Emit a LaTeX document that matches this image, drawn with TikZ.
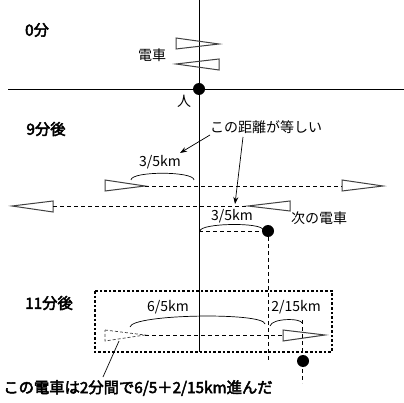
\documentclass[tikz,border=0pt]{standalone}
\usepackage{fontspec}
\newfontfamily\jp{Noto Sans CJK JP}
\newfontfamily\jpb[FakeBold=3]{Noto Sans CJK JP}
\usetikzlibrary{arrows.meta}
\begin{document}
\begin{tikzpicture}[x=1pt,y=-1pt,
  ln/.style={line width=0.8pt},
  dsh/.style={line width=0.7pt,dash pattern=on 4pt off 3pt},
  train/.style={line width=1pt,draw=black!75,line join=miter},
  lbl/.style={font=\jp\fontsize{14}{16}\selectfont,inner sep=0pt},
  ttl/.style={font=\jpb\fontsize{15.3}{17}\selectfont,inner sep=0pt},
  dot/.style={circle,fill=black,inner sep=0pt,minimum size=12pt},
  arr/.style={line width=0.7pt,-{Stealth[length=7pt,width=5pt]}}]
\useasboundingbox (0,0) rectangle (404,403);
% axes
\coordinate (vtop) at (199,0);
\coordinate (vbot) at (199,352);
\coordinate (hl) at (8,89);
\coordinate (hr) at (404,89);
\draw[ln] (vtop) -- (vbot);
\draw[ln] (hl) -- (hr);
\node[dot] (person) at (199,89) {};
\node[lbl] (hito) at (184,101) {人};
% titles
\node[ttl] (t0) at (37,30) {0分};
\node[ttl] (t9) at (46,129) {9分後};
\node[ttl] (t11) at (49,303) {11分後};
% trains at 0
\draw[train] (176,38) -- (219,44) -- (176,49) -- cycle;
\draw[train] (219,59) -- (176,64) -- (219,70) -- cycle;
\node[lbl] (densha) at (152,55) {電車};
% 9 min rows
\draw[train] (105,180) -- (145,186) -- (105,191) -- cycle;
\draw[train] (342,180) -- (383,186) -- (342,191) -- cycle;
\coordinate (r1a) at (145,186); \coordinate (r1b) at (342,186);
\draw[dsh] (r1a) -- (r1b);
\draw[train] (53,201) -- (12,206) -- (53,212) -- cycle;
\draw[train] (290,201) -- (248,206) -- (290,211) -- cycle;
\coordinate (r2a) at (53,206); \coordinate (r2b) at (248,206);
\draw[dsh] (r2a) -- (r2b);
\node[lbl] (next) at (319,218) {次の電車};
% arcs 3/5
\coordinate (a1l) at (131,180); \coordinate (a1r) at (194,180);
\draw[line width=0.7pt] (a1l) .. controls (131,171) and (194,171) .. (a1r);
\node[lbl] (d1) at (160,162) {3/5km};
\coordinate (a2l) at (200,231); \coordinate (a2r) at (263,230);
\draw[line width=0.7pt] (a2l) .. controls (200,223) and (263,222) .. (a2r);
\node[lbl] (d2) at (232,216) {3/5km};
\node[dot] (p9) at (268,231) {};
\coordinate (c9) at (199,231);
\draw[dsh] (c9) -- (p9);
\coordinate (v9b) at (268,360);
\draw[dsh] (p9) -- (v9b);
% equal label + arrows
\node[lbl] (eq) at (266,127) {この距離が等しい};
\coordinate (e1s) at (210,135); \coordinate (e1e) at (180,153);
\coordinate (e2s) at (243,137); \coordinate (e2e) at (235,204);
\draw[arr] (e1s) -- (e1e);
\draw[arr] (e2s) -- (e2e);
% 11 min box
\draw[line width=2.6pt,dash pattern=on 2.6pt off 2pt] (95,291) rectangle (332,352);
\draw[train,dash pattern=on 3pt off 2pt,line width=0.7pt] (105,330) -- (145,335) -- (105,341) -- cycle;
\draw[train] (283,330) -- (325,335) -- (283,341) -- cycle;
\coordinate (r3a) at (145,335); \coordinate (r3b) at (283,335);
\draw[dsh] (r3a) -- (r3b);
\coordinate (v11t) at (302,320); \coordinate (v11b) at (302,383);
\draw[dsh] (v11t) -- (v11b);
\node[dot] (p11) at (303,361) {};
\coordinate (a3l) at (130,327); \coordinate (a3r) at (265,324);
\draw[line width=0.7pt] (a3l) .. controls (132,314) and (264,312) .. (a3r);
\node[lbl] (d3) at (168,307) {6/5km};
\coordinate (a4l) at (270,326); \coordinate (a4r) at (302,323);
\draw[line width=0.7pt] (a4l) .. controls (272,318) and (301,318) .. (a4r);
\node[lbl] (d4) at (296,307) {2/15km};
% bottom label
\node[ttl] (bot) at (138,388) {この電車は2分間で6/5＋2/15km進んだ};
\coordinate (ps) at (103,377); \coordinate (pe) at (119,341);
\draw[line width=0.7pt] (ps) -- (pe);
\end{tikzpicture}
\end{document}
